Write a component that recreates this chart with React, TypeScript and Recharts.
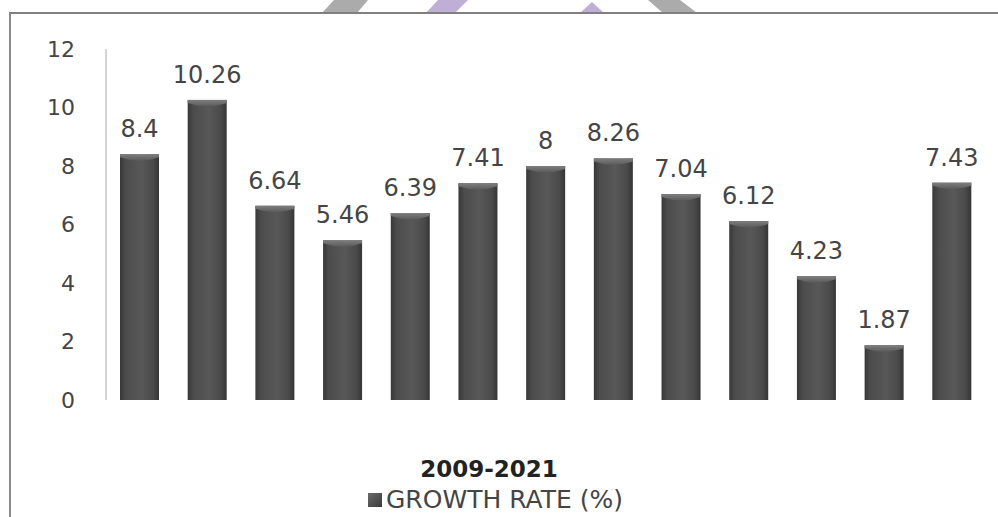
import { BarChart, Bar, XAxis, YAxis, Legend, LabelList } from "recharts";

const years = [
  "2009", "2010", "2011", "2012", "2013", "2014", "2015",
  "2016", "2017", "2018", "2019", "2020", "2021",
];
const growthRate = [8.4, 10.26, 6.64, 5.46, 6.39, 7.41, 8, 8.26, 7.04, 6.12, 4.23, 1.87, 7.43];
const yTicks = [0, 2, 4, 6, 8, 10, 12];

const data = years.map((y, i) => ({ year: y, value: growthRate[i] }));

const FONT = "'DejaVu Sans', Verdana, sans-serif";

const ShadedBar = (props: any) => {
  const { x, y, width, height } = props;
  if (!height || height <= 0) return null;
  const cap = Math.min(10, height);
  return (
    <g>
      <rect x={x} y={y} width={width} height={height} fill="url(#barGrad)" />
      <path
        d={`M${x},${y} h${width} v${cap * 0.3} Q${x + width / 2},${y + cap} ${x},${y + cap * 0.3} Z`}
        fill="url(#capGrad)"
      />
    </g>
  );
};

const LegendContent = () => (
  <div
    style={{
      display: "flex",
      alignItems: "center",
      justifyContent: "flex-start",
      paddingLeft: 368,
      fontFamily: FONT,
      fontSize: 25,
      color: "#454545",
      lineHeight: "29px",
      whiteSpace: "nowrap",
    }}
  >
    <svg width={14} height={14} style={{ marginRight: 4 }}>
      <rect x={0} y={0} width={14} height={14} fill="url(#legendGrad)" />
      <defs>
        <linearGradient id="legendGrad" x1="0" y1="0" x2="1" y2="1">
          <stop offset="0%" stopColor="#6a6a6a" />
          <stop offset="100%" stopColor="#3a3a3a" />
        </linearGradient>
      </defs>
    </svg>
    GROWTH RATE (%)
  </div>
);

const AxisTitle = (props: any) => {
  const { viewBox } = props;
  return (
    <text
      x={489}
      y={viewBox.y + 77}
      textAnchor="middle"
      fill="#222"
      fontSize={23}
      fontWeight={700}
      fontFamily={FONT}
    >
      2009-2021
    </text>
  );
};

export default function App() {
  return (
    <div
      style={{
        position: "absolute",
        left: 0,
        top: 0,
        width: 998,
        height: 517,
        overflow: "hidden",
        background: "#fff",
      }}
    >
      {/* frame and watermark pieces */}
      <svg
        width={998}
        height={517}
        style={{ position: "absolute", left: 0, top: 0 }}
      >
        <polygon points="334,0 368,0 357,13 322,13" fill="#ababab" />
        <polygon points="438,0 468,0 455,13 426,13" fill="#bfaed6" />
        <polygon points="592,2 604,13 580,13" fill="#bfaed6" />
        <polygon points="648,0 680,0 697,13 663,13" fill="#ababab" />
        <line x1={9} y1={13} x2={998} y2={13} stroke="#808080" strokeWidth={2} />
        <line x1={10} y1={13} x2={10} y2={517} stroke="#8a8a8a" strokeWidth={2} />
      </svg>

      <div style={{ position: "absolute", left: 0, top: 0 }}>
        <BarChart
          width={998}
          height={517}
          data={data}
          margin={{ top: 49, right: 12, left: 46, bottom: 0 }}
        >
          <defs>
            <linearGradient id="barGrad" x1="0" y1="0" x2="1" y2="0">
              <stop offset="0%" stopColor="#383838" />
              <stop offset="15%" stopColor="#4c4c4c" />
              <stop offset="55%" stopColor="#585858" />
              <stop offset="85%" stopColor="#4a4a4a" />
              <stop offset="100%" stopColor="#353535" />
            </linearGradient>
            <linearGradient id="capGrad" x1="0" y1="0" x2="0" y2="1">
              <stop offset="0%" stopColor="#7e7e7e" />
              <stop offset="100%" stopColor="#5a5a5a" />
            </linearGradient>
          </defs>
          <XAxis
            dataKey="year"
            tick={false}
            tickLine={false}
            axisLine={false}
            height={88}
            label={<AxisTitle />}
          />
          <YAxis
            domain={[0, 12]}
            ticks={yTicks}
            width={60}
            tickLine={false}
            tickSize={29}
            tickMargin={2}
            axisLine={{ stroke: "#a8a8a8", strokeWidth: 1 }}
            tick={{ fill: "#454545", fontSize: 22, fontFamily: FONT }}
          />
          <Legend
            verticalAlign="bottom"
            height={29}
            wrapperStyle={{ top: 485, left: 0, width: 998 }}
            content={<LegendContent />}
          />
          <Bar
            dataKey="value"
            name="GROWTH RATE (%)"
            barSize={39}
            shape={<ShadedBar />}
            isAnimationActive={false}
          >
            <LabelList
              dataKey="value"
              position="top"
              offset={17}
              fill="#454545"
              fontSize={24}
              fontFamily={FONT}
            />
          </Bar>
        </BarChart>
      </div>
    </div>
  );
}
